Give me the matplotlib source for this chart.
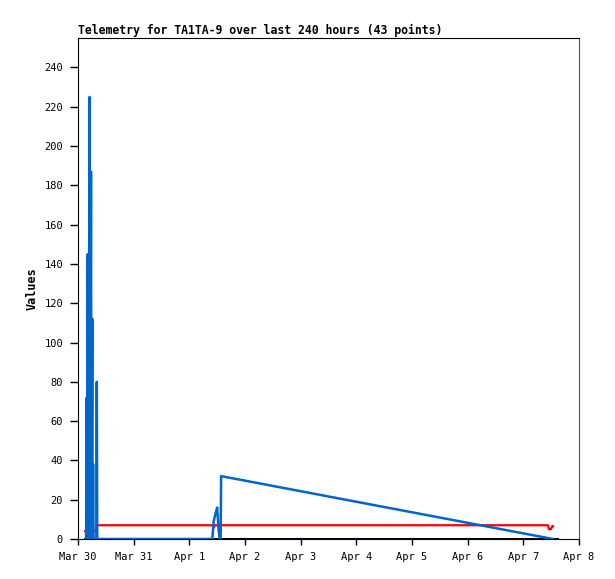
import matplotlib
matplotlib.use("Agg")
import matplotlib.pyplot as plt
import matplotlib.dates as mdates
from datetime import datetime, timedelta

start = datetime(2024, 3, 30)

# hours since Mar 30 00:00
blue_hours = [3.5, 3.75, 3.95, 4.2, 4.5, 5.0, 5.25, 5.6, 5.8, 6.15, 6.3, 6.5, 6.7,
              7.9, 8.1, 8.3, 57.9, 58.5, 59.3, 60.0, 60.6, 61.1, 61.5, 61.7, 204.8]
blue_vals = [0, 72, 0, 145, 0, 225, 0, 187, 0, 112, 0, 38, 0,
             0, 80, 0, 0, 9, 13, 16, 5, 0, 0, 32, 0]

red_hours = [3.1, 7.8, 8.0, 58.0, 58.4, 59.1, 202.6, 203.0, 203.9, 204.4, 204.8]
red_vals = [4, 4, 7, 7, 5.5, 7, 7, 5, 5, 6.5, 6.5]

black_hours = [3.1, 206.5]
black_vals = [0, 0]

def to_dates(hours):
    return [mdates.date2num(start + timedelta(hours=h)) for h in hours]

fig = plt.figure(figsize=(6.15, 5.79), dpi=100)
ax = fig.add_axes([78/615, 1 - 539/579, (579-78)/615, (539-38)/579])

mono = "DejaVu Sans Mono"

ax.plot(to_dates(black_hours), black_vals, color="black", lw=2.2, zorder=2)
ax.plot(to_dates(red_hours), red_vals, color="#FF0000", lw=1.6, zorder=3)
ax.plot(to_dates(blue_hours), blue_vals, color="#0066CC", lw=1.8, zorder=4)

ax.set_xlim(mdates.date2num(start), mdates.date2num(start + timedelta(days=9)))
ax.set_ylim(0, 255)
ax.set_yticks(range(0, 241, 20))
ax.xaxis.set_major_locator(mdates.DayLocator())
ax.xaxis.set_major_formatter(mdates.DateFormatter("%b %-d"))

ax.tick_params(axis="y", direction="out", length=5.8, width=1, labelsize=7.5, pad=5)
ax.tick_params(axis="x", direction="out", length=4.3, width=1, labelsize=7.5, pad=5)
for lbl in ax.get_xticklabels() + ax.get_yticklabels():
    lbl.set_family(mono)

for s in ["left", "bottom", "top"]:
    ax.spines[s].set_color("black")
ax.spines["right"].set_color("#555555")

ax.set_title("Telemetry for TA1TA-9 over last 240 hours (43 points)", loc="left",
             fontsize=8.3, fontweight="bold", family=mono, pad=3)
ax.set_ylabel("Values", fontsize=8.5, fontweight="bold", family=mono, labelpad=4)

fig.savefig("out.png", dpi=100)
